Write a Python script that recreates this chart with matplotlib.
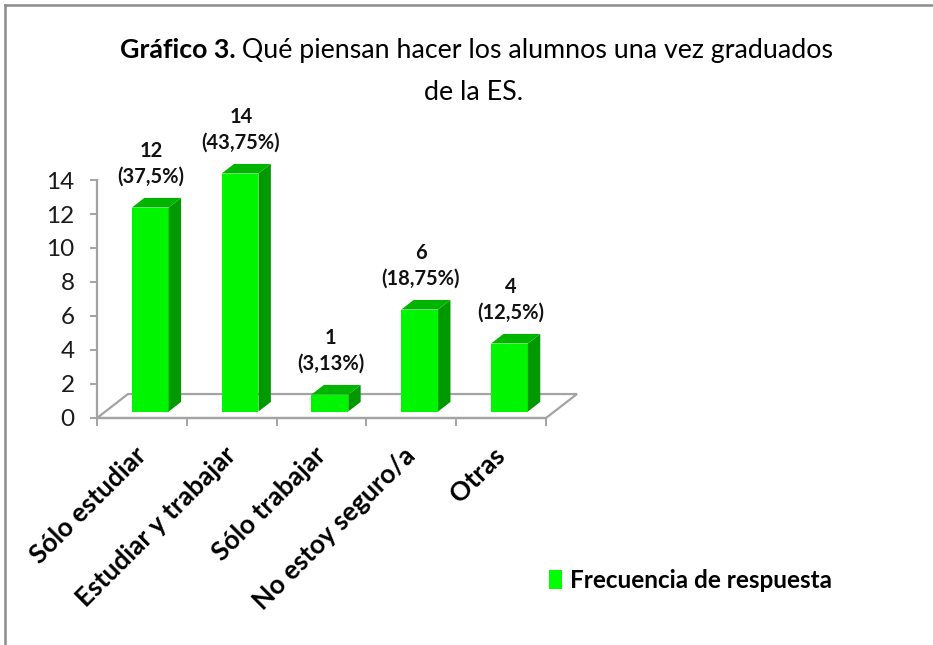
import matplotlib
matplotlib.use("Agg")
import matplotlib.pyplot as plt
from matplotlib.patches import Polygon
from matplotlib.lines import Line2D
import numpy as np

categories = ["Sólo estudiar", "Estudiar y trabajar", "Sólo trabajar",
              "No estoy seguro/a", "Otras"]
values = [12, 14, 1, 6, 4]
percent_labels = ["37,5%", "43,75%", "3,13%", "18,75%", "12,5%"]
y_ticks = [0, 2, 4, 6, 8, 10, 12, 14]
legend_label = "Frecuencia de respuesta"
title_bold = "Gráfico 3."
title_rest = " Qué piensan hacer los alumnos una vez graduados"
title_line2 = "de la ES."

FONT = ["Lato", "DejaVu Sans"]
plt.rcParams["font.family"] = FONT

W, H = 933, 645
fig = plt.figure(figsize=(W / 100, H / 100), dpi=100)
fig.patch.set_facecolor("white")

ax_left, ax_right = 97, 546
ax_bot, ax_top = 418, 180
ax = fig.add_axes([ax_left / W, (H - ax_bot) / H,
                   (ax_right - ax_left) / W, (ax_bot - ax_top) / H])
ax.set_xlim(-0.5, len(categories) - 0.5)
ax.set_ylim(0, 14)
ax.patch.set_alpha(0)

GRAY = "#A3A3A3"
FRONT = "#00F600"
TOP = "#00B400"
SIDE = "#009A00"

DX, DY = 0.345, 1.41
f0, fd = 0.27, 0.40
bw = 0.41

n = len(categories)
floor = Polygon([(-0.5, 0), (n - 0.5, 0), (n - 0.5 + DX, DY), (-0.5 + DX, DY)],
                closed=True, facecolor="white", edgecolor=GRAY, lw=1.6,
                clip_on=False, zorder=1)
ax.add_patch(floor)

for i, v in enumerate(values):
    x0 = i - bw / 2 + f0 * DX
    x1 = i + bw / 2 + f0 * DX
    yb = f0 * DY
    yt = v + f0 * DY
    ddx, ddy = fd * DX, fd * DY
    front = Polygon([(x0, yb), (x1, yb), (x1, yt), (x0, yt)], closed=True,
                    facecolor=FRONT, edgecolor="none", clip_on=False, zorder=3)
    side = Polygon([(x1, yb), (x1 + ddx, yb + ddy), (x1 + ddx, yt + ddy), (x1, yt)],
                   closed=True, facecolor=SIDE, edgecolor="none", clip_on=False, zorder=3)
    top = Polygon([(x0, yt), (x1, yt), (x1 + ddx, yt + ddy), (x0 + ddx, yt + ddy)],
                  closed=True, facecolor=TOP, edgecolor="none", clip_on=False, zorder=3)
    for p in (front, side, top):
        ax.add_patch(p)
    ax.text((x0 + x1) / 2 + 0.01, yt + 1.25, f"{v}\n({percent_labels[i]})",
            ha="center", va="bottom", multialignment="center",
            fontsize=14.5, fontweight="bold", color="#111111", linespacing=1.3,
            clip_on=False, zorder=5)

for s in ("top", "right"):
    ax.spines[s].set_visible(False)
ax.spines["left"].set_color(GRAY)
ax.spines["left"].set_linewidth(1.6)
ax.spines["bottom"].set_color(GRAY)
ax.spines["bottom"].set_linewidth(1.6)

ax.set_yticks(y_ticks)
ax.set_yticklabels([str(t) for t in y_ticks])
ax.tick_params(axis="y", length=5, width=1.4, color=GRAY, pad=11,
               labelsize=17.5, labelcolor="#1a1a1a")

ax.set_xticks(range(n))
ax.set_xticklabels(categories, rotation=45, ha="right", va="center",
                   rotation_mode="anchor", fontsize=19, fontweight="bold",
                   color="#000000")
ax.tick_params(axis="x", which="major", length=0, pad=24)
ax.set_xticks(np.arange(-0.5, n, 1.0), minor=True)
ax.tick_params(axis="x", which="minor", length=6, width=1.4, color=GRAY)

ax.legend([Polygon([(0, 0)], facecolor="#00FF00")], [legend_label],
          loc="upper left", bbox_to_anchor=(549 / W, (H - 569) / H),
          bbox_transform=fig.transFigure, frameon=False,
          prop={"family": FONT, "weight": "bold", "size": 17.5},
          handlelength=0.55, handleheight=0.8, handletextpad=0.3,
          borderaxespad=0, borderpad=0)

fig.canvas.draw()
r = fig.canvas.get_renderer()
TS = 19.3
tb = fig.text(0, 0, title_bold, fontsize=TS, fontweight="bold")
tr = fig.text(0, 0, title_rest, fontsize=TS)
wb = tb.get_window_extent(r).width
wr = tr.get_window_extent(r).width
cx = 476.5
start = cx - (wb + wr) / 2
base1 = H - 58
tb.set_position((start / W, base1 / H)); tb.set_va("baseline")
tr.set_position(((start + wb) / W, base1 / H)); tr.set_va("baseline")
fig.text(474 / W, (H - 100) / H, title_line2, fontsize=TS, ha="center",
         va="baseline")

fig.add_artist(Line2D([5 / W, 1], [1 - 5 / H, 1 - 5 / H], transform=fig.transFigure,
                      color="#8C8C8C", lw=1.8))
fig.add_artist(Line2D([5 / W, 5 / W], [0, 1 - 5 / H], transform=fig.transFigure,
                      color="#8C8C8C", lw=1.8))

fig.savefig("out.png", dpi=100)
